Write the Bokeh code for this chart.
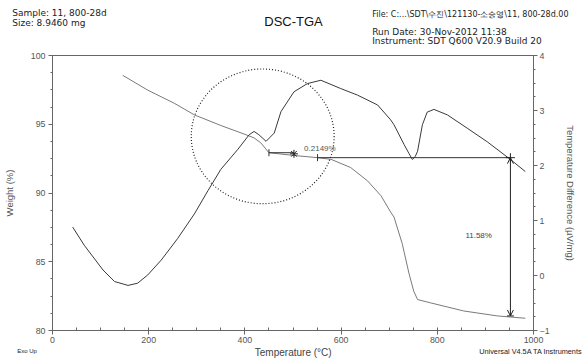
import math
from bokeh.plotting import figure
from bokeh.layouts import column
from bokeh.models import Range1d, LinearAxis, Label, Arrow, OpenHead, SingleIntervalTicker
from bokeh.core.properties import value
from bokeh.embed import file_html
from bokeh.resources import INLINE

# ---- data ----
temp_tga = [146, 198, 253, 295, 350, 402, 419, 433, 450, 502, 551, 579, 620, 655,
            683, 703, 710, 727, 741, 751, 759, 786, 855, 925, 983]
weight = [98.56, 97.48, 96.53, 95.68, 94.91, 94.24, 94.01, 93.65, 92.93, 92.73, 92.57,
          92.45, 91.85, 90.88, 89.80, 88.61, 88.25, 86.33, 84.17, 82.86, 82.25, 82.01,
          81.42, 81.06, 80.89]

temp_dsc = [42, 66, 105, 129, 157, 177, 198, 226, 260, 295, 323, 350, 385, 409, 419,
            429, 444, 461, 475, 502, 530, 558, 599, 634, 676, 703, 710, 731, 741, 748,
            754, 759, 764, 769, 779, 793, 821, 862, 904, 952, 983]
dsc = [0.88, 0.55, 0.10, -0.11, -0.18, -0.14, 0.01, 0.28, 0.67, 1.12, 1.54, 1.93, 2.29,
       2.56, 2.62, 2.56, 2.44, 2.59, 2.98, 3.34, 3.49, 3.55, 3.40, 3.28, 3.10, 2.83, 2.74,
       2.38, 2.22, 2.11, 2.16, 2.26, 2.50, 2.74, 2.97, 3.02, 2.92, 2.68, 2.43, 2.11, 1.89]

# step analysis annotation (temperatures in degC, weights in %)
step_start_T, step_mid_T, step_end_T = 450, 502, 551
step_start_W, step_end_W = 92.93, 92.57
step_label = "0.2149%"
loss_T = 952
loss_top_W, loss_bottom_W = 92.57, 81.06
loss_label = "11.58%"
circle_T, circle_W, circle_w, circle_h = 437, 94.12, 297, 9.8

x_range = (0, 1000)
w_range = (80, 100)
d_range = (-1, 4)

header_left = ["Sample: 11, 800-28d", "Size: 8.9460 mg"]
title_text = "DSC-TGA"
file_text = "File: C:...\\SDT\\수진\\121130-소승영\\11, 800-28d.00"
header_right = ["Run Date: 30-Nov-2012 11:38",
                "Instrument: SDT Q600 V20.9 Build 20"]
x_label = "Temperature (°C)"
y_label = "Weight (%)"
y2_label = "Temperature Difference (µV/mg)"
foot_left = "Exo Up"
foot_right = "Universal V4.5A TA Instruments"

FONT = "Liberation Sans"
WIDE = "DejaVu Sans"
AX = "#666666"
W = 583


def blank(h):
    f = figure(width=W, height=h, output_backend="svg", toolbar_location=None,
               x_range=Range1d(0, W), y_range=Range1d(h, 0),
               x_axis_type=None, y_axis_type=None, min_border=0)
    f.grid.visible = False
    f.outline_line_color = None
    f.frame_align = False
    return f


# ---- header ----
H_HEAD = 47
head = blank(H_HEAD)
head.text(x=[11.7, 11.7], y=[12.5, 22.5], text=header_left, text_font=value(WIDE),
          text_font_size="9px", text_color="#222222", text_baseline="middle",
          text_align="left")
head.text(x=[293], y=[21], text=[title_text], text_font=value(FONT),
          text_font_size="13px", text_color="#111111", text_baseline="middle",
          text_align="center")
head.text(x=[371.7], y=[14], text=[file_text], text_font=value(WIDE),
          text_font_size="8px", text_color="#222222", text_baseline="middle",
          text_align="left")
head.text(x=[371.7, 371.7], y=[31, 40.5], text=header_right,
          text_font=value(WIDE), text_font_size="9px", text_color="#222222",
          text_baseline="middle", text_align="left")

# ---- main chart ----
p = figure(width=W, height=298, output_backend="svg", toolbar_location=None,
           x_range=Range1d(*x_range), y_range=Range1d(*w_range),
           min_border_left=51, min_border_right=50, min_border_top=8,
           min_border_bottom=12)
p.frame_align = False
p.extra_y_ranges = {"dsc": Range1d(*d_range)}
p.grid.visible = False
p.outline_line_color = AX

p.xaxis.ticker = SingleIntervalTicker(interval=200, num_minor_ticks=4)
p.yaxis.ticker = SingleIntervalTicker(interval=5, num_minor_ticks=4)
right = LinearAxis(y_range_name="dsc",
                   ticker=SingleIntervalTicker(interval=1, num_minor_ticks=4))
p.add_layout(right, "right")

for ax in [p.xaxis[0], p.yaxis[0], right]:
    ax.axis_line_color = AX
    ax.major_tick_line_color = AX
    ax.minor_tick_line_color = AX
    ax.major_label_text_color = "#555555"
    ax.major_label_text_font = FONT
    ax.major_label_text_font_size = "8.8px"
    ax.major_tick_out = 4
    ax.major_tick_in = 0
    ax.axis_label_text_font = FONT
    ax.axis_label_text_font_size = "9.5px"
    ax.axis_label_text_font_style = "normal"
    ax.axis_label_text_color = "#555555"
p.xaxis.minor_tick_in = 3
p.xaxis.minor_tick_out = 0
p.xaxis.major_label_standoff = 2
p.yaxis[0].minor_tick_out = 2
p.yaxis[0].minor_tick_in = 0
p.yaxis[0].major_label_standoff = 3
p.yaxis[0].axis_label = y_label
p.yaxis[0].axis_label_standoff = 13
right.minor_tick_out = 2
right.minor_tick_in = 0
right.major_label_standoff = 2
right.axis_label = y2_label
right.axis_label_standoff = 12

# curves
p.line(temp_tga, weight, line_color="#7a7a7a", line_width=1)
p.line(temp_dsc, dsc, line_color="#3a3a3a", line_width=1, y_range_name="dsc")

# dotted circle
p.ellipse(x=[circle_T], y=[circle_W], width=[circle_w], height=[circle_h],
          fill_color=None, line_color="#222222", line_dash="1 2", line_width=1.2)

# step annotation
p.segment(x0=[step_start_T], y0=[step_start_W], x1=[step_mid_T], y1=[step_start_W],
          line_color="#333333", line_width=1)
p.segment(x0=[step_end_T], y0=[step_end_W], x1=[loss_T], y1=[step_end_W],
          line_color="#333333", line_width=1)
p.scatter(x=[step_start_T, step_end_T], y=[step_start_W, step_end_W], marker="dash",
          angle=math.pi / 2, size=7, line_color="#333333")
p.scatter(x=[step_mid_T], y=[(step_start_W + step_end_W) / 2 + 0.1], marker="asterisk",
          size=8, line_color="#222222")
p.add_layout(Label(x=step_mid_T + 21, y=step_start_W + 0.29, text=step_label,
                   text_font=FONT, text_font_size="8px", text_color="#555555",
                   text_baseline="middle", text_align="left"))

# total loss arrow
p.add_layout(Arrow(x_start=loss_T, y_start=loss_top_W, x_end=loss_T, y_end=loss_bottom_W,
                   line_color="#222222", line_width=1,
                   start=OpenHead(size=6, line_color="#222222", line_width=1),
                   end=OpenHead(size=6, line_color="#222222", line_width=1)))
p.scatter(x=[loss_T], y=[loss_top_W], marker="cross", size=9, line_color="#222222")
p.scatter(x=[loss_T], y=[loss_bottom_W], marker="dash", size=7, line_color="#222222")
p.add_layout(Label(x=886, y=86.9, text=loss_label, text_font=FONT, text_font_size="8px",
                   text_color="#444444", text_align="center", text_baseline="middle"))

# ---- footer ----
H_FOOT = 13
foot = blank(H_FOOT)
foot.text(x=[16.7], y=[5.5], text=[foot_left], text_font=value(FONT), text_font_size="6px",
          text_color="#222222", text_baseline="middle", text_align="left")
foot.text(x=[292.7], y=[7], text=[x_label], text_font=value(FONT), text_font_size="10px",
          text_color="#444444", text_baseline="middle", text_align="center")
foot.text(x=[582], y=[6], text=[foot_right], text_font=value(FONT), text_font_size="7.3px",
          text_color="#222222", text_baseline="middle", text_align="right")

layout = column(head, p, foot, spacing=0)
open("out.html", "w").write(file_html(layout, INLINE))
